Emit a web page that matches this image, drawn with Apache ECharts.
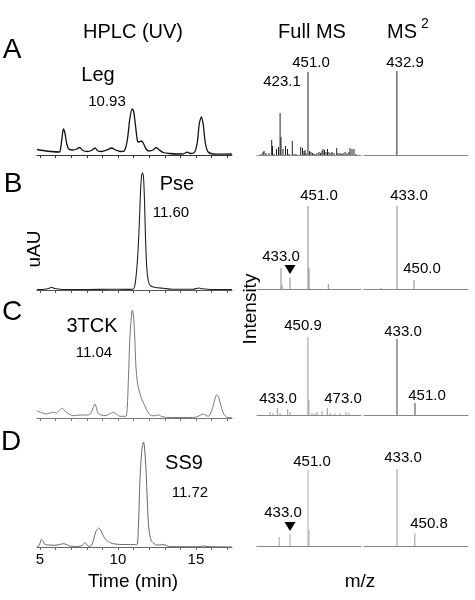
<!DOCTYPE html>
<html><head><meta charset="utf-8">
<script src="https://cdn.jsdelivr.net/npm/echarts@6/dist/echarts.min.js"></script>
<style>html,body{margin:0;padding:0;background:#fff}#c{width:475px;height:600px}</style>
</head><body><div id="c"></div>
<script>
// ---------- HPLC (UV) traces: retention time (min) and absorbance (a.u.) ----------
const timeA = [4.81,5.2,5.7,6.25,6.32,6.42,6.5,6.6,6.72,6.85,7.1,7.35,7.55,7.75,8.05,8.3,8.53,8.72,8.95,9.3,9.6,9.85,10.15,10.4,10.6,10.75,10.9,11.0,11.12,11.25,11.35,11.5,11.62,11.8,12.0,12.25,12.45,12.65,12.9,13.3,13.8,14.2,14.45,14.65,14.9,15.08,15.22,15.35,15.47,15.6,15.78,16.1,16.6,17.3];
const uvA   = [5.5,4.5,3.5,3,6,18,26,22,11,6,5,6,7.5,4.5,3.5,4.5,7,4,3.5,5,7,5,3.5,4,15,35,46,44,30,14,13,14,12,6,4,5,7.5,5,2.5,1.5,1,1.2,2.8,1.5,2.5,12,32,38,30,12,3,1,0.8,1];
const timeB = [4.81,5.3,5.6,5.75,5.95,6.5,8,9.5,10.5,10.95,11.1,11.25,11.36,11.45,11.52,11.58,11.64,11.7,11.77,11.85,11.95,12.1,12.4,12.9,13.5,14.8,15.2,15.4,16,17.3];
const uvB   = [0.5,0.8,1.8,2.7,1.5,0.5,0.5,0.8,0.6,0.8,6,30,63,100,115,117,112,90,50,22,9,4,2.5,1.7,0.8,0.8,2,1.2,0.5,0.5];
const timeC = [4.81,5.1,5.43,5.65,5.85,6.05,6.2,6.43,6.6,6.75,7.13,7.5,7.78,8.1,8.3,8.45,8.53,8.62,8.75,9.17,9.45,9.7,9.9,10.13,10.5,10.6,10.66,10.75,10.81,10.92,10.98,11.03,11.1,11.15,11.25,11.4,11.55,11.73,11.95,12.15,12.4,12.58,12.8,13.2,14.5,15.04,15.3,15.47,15.65,15.8,15.95,16.1,16.25,16.33,16.45,16.55,16.75,16.95,17.3];
const uvC   = [7,5.5,4,5,5.7,5,7,9.7,7,5,2.3,2.8,3,3,6,12,14,10,4.3,2.3,4,5.7,4,1.7,1.7,12,35,75,92,108,104,95,72,52,35,25,18,12,5,2.3,2.3,3.2,1.5,0.5,0.5,1,3,4,2.5,1.7,5,12,21,23,21,15,5,1,0.3];
const timeD = [4.81,4.95,5.1,5.2,5.3,5.6,5.95,6.25,6.5,6.7,6.9,7.4,7.7,7.88,8.0,8.1,8.3,8.45,8.55,8.63,8.78,8.87,8.95,9.17,9.4,9.7,10.2,10.8,11.2,11.3,11.41,11.5,11.56,11.64,11.7,11.8,11.87,11.95,12.05,12.16,12.48,12.7,12.9,13.1,13.33,15.2,15.47,15.7,17.3];
const uvD   = [0.5,1.5,7.7,6,2.7,2,1.7,2.5,3.3,2.5,1,0.5,1.5,4.3,2.5,0.7,1.5,8,14,16.7,19,17.5,15,8.3,5,3.3,2.5,2.5,2.3,16.7,66.7,92,100,105,100,76.7,50,23,11,5.7,2,2,2.7,1.5,0.3,0.3,1,0.5,0];
const timeTicks = [5,6,7,8,9,10,11,12,13,14,15,16,17];
const timeLabels = [5,10,15];

// ---------- Full MS spectra: m/z and relative intensity ----------
const fullMzA  = [404,406,407,409,412,414.7,415.5,417,419.5,421.5,423.1,424,426,428.5,430.5,432,435.3,437,439,443.7,445.5,447,448,449,451,452.5,454,455.5,457,458,460,462,463.5,465,466,467.5,469,470.5,472,474,475,477,479.7,481,483,484.5,486,488,490,492,493,495,497,499];
const fullIntA = [1,3,4,2,2,15,9,1,6,8,42,18,6,9,6,1,14,1,1,8,7,4,5,2,83,4,3,2,1,1,2,3,2,4,6,5,3,6,3,2,3,2,7,2,2,1,2,3,2,3,7,6,6,1];
const fullMzB  = [424,425,433,451,452,471.3];
const fullIntB = [21,4,11,83,21,5];
const fullMzC  = [413,416,420.3,423,430.7,433,450.9,451.9,455,458,460,465,470.3,473,478,483,489,492];
const fullIntC = [3,2,7,2,6,3,78,15,2,1.5,3,4,7,2,1.5,2,3,2];
const fullMzD  = [422.3,433,451,452];
const fullIntD = [9,12,76,16];

// ---------- MS2 spectra ----------
const ms2MzA  = [432.9];        const ms2IntA = [84];
const ms2MzB  = [416.7,433,450]; const ms2IntB = [1,83,9];
const ms2MzC  = [433,451];       const ms2IntC = [76,12];
const ms2MzD  = [433,450.8];     const ms2IntD = [77,12.7];

// ---------- annotations ----------
const hplcNames = ['Leg','Pse','3TCK','SS9'];
const hplcRt    = ['10.93','11.60','11.04','11.72'];
const panelLetters = ['A','B','C','D'];
const markedMz = 433.0;   // precursor marked by a triangle in B and D

// ================= build chart =================
const FONT = '"Liberation Sans", Arial, Helvetica, sans-serif';
const zip = (a, b) => a.map((v, i) => [v, b[i]]);

const hplcSets = [[timeA,uvA],[timeB,uvB],[timeC,uvC],[timeD,uvD]];
const fullSets = [[fullMzA,fullIntA],[fullMzB,fullIntB],[fullMzC,fullIntC],[fullMzD,fullIntD]];
const ms2Sets  = [[ms2MzA,ms2IntA],[ms2MzB,ms2IntB],[ms2MzC,ms2IntC],[ms2MzD,ms2IntD]];

// layout (pixels)
const hplcBase = [155, 290, 418, 547];
const hplcH    = [50, 120, 110, 110];
const msBase   = [155, 289, 415, 546];
const hplcColor = ['#111','#222','#777','#666'];
const hplcWidth = [1.3, 1.1, 1, 1];
const hplcAxisColor = ['#333','#555','#777','#666'];
const fullColor = ['#222','#888','#999','#aaa'];
const ms2Color  = ['#222','#888','#444','#999'];

const grid = [], xAxis = [], yAxis = [], series = [];
function addGrid(left, width, base, h) {
  grid.push({left: left, width: width, top: base - h, height: h, containLabel: false});
  return grid.length - 1;
}

for (let p = 0; p < 4; p++) {
  // HPLC
  let gi = addGrid(37, 195, hplcBase[p], hplcH[p]);
  xAxis.push({
    type: 'value', gridIndex: gi, min: 4.81, max: 17.31,
    axisLine: {show: true, lineStyle: {color: hplcAxisColor[p], width: 1}},
    axisTick: {show: true, customValues: timeTicks, length: 3, lineStyle: {color: hplcAxisColor[p]}},
    axisLabel: {show: p === 3, customValues: timeLabels, fontSize: 15, color: '#000', fontFamily: FONT, margin: 5},
    splitLine: {show: false}
  });
  yAxis.push({type: 'value', gridIndex: gi, min: 0, max: hplcH[p], show: false});
  series.push({
    type: 'line', xAxisIndex: gi, yAxisIndex: gi, data: zip(hplcSets[p][0], hplcSets[p][1]),
    showSymbol: false, smooth: 0.25, lineStyle: {color: hplcColor[p], width: hplcWidth[p]}, silent: true
  });

  // Full MS and MS2
  [[257, fullSets[p], fullColor[p], true], [364, ms2Sets[p], ms2Color[p], false]].forEach(([left, set, col, isFull]) => {
    const g = addGrid(left, 104, msBase[p], 90);
    xAxis.push({
      type: 'value', gridIndex: g, min: 400, max: 504,
      axisLine: {show: true, lineStyle: {color: '#888', width: 1}},
      axisTick: {show: false}, axisLabel: {show: false}, splitLine: {show: false}
    });
    yAxis.push({type: 'value', gridIndex: g, min: 0, max: 90, show: false});
    const s = {
      type: 'bar', xAxisIndex: g, yAxisIndex: g, data: zip(set[0], set[1]),
      barWidth: 1, itemStyle: {color: col}, silent: true
    };
    if (isFull && (p === 1 || p === 3)) {
      s.markPoint = {
        symbol: 'triangle', symbolRotate: 180, symbolSize: [11, 9],
        itemStyle: {color: '#000'}, label: {show: false},
        data: [{coord: [markedMz, 19.5]}]
      };
    }
    series.push(s);
  });
}

// texts
const T = (text, x, y, size, extra) => Object.assign({
  type: 'text', x: x, y: y, silent: true,
  style: {text: text, x: 0, y: 0, fill: '#000', font: size + 'px ' + FONT, textAlign: 'center', textVerticalAlign: 'middle'}
}, extra || {});

const graphic = [
  T('HPLC (UV)', 133, 32, 20), T('Full MS', 312, 32, 20), T('MS', 402, 32, 20), T('2', 425, 24, 14),
  T(panelLetters[0], 12, 50, 28), T(panelLetters[1], 13, 184, 28), T(panelLetters[2], 12, 312, 28), T(panelLetters[3], 11, 442, 28),
  T(hplcNames[0], 98, 75, 20), T(hplcRt[0], 107, 102, 15),
  T(hplcNames[1], 177, 184, 20), T(hplcRt[1], 171, 213, 15),
  T(hplcNames[2], 92, 326, 20), T(hplcRt[2], 94, 353, 15),
  T(hplcNames[3], 184, 463, 20), T(hplcRt[3], 190, 493, 15),
  T('uAU', 35, 249, 19, {rotation: Math.PI / 2}),
  T('Intensity', 251, 309, 19, {rotation: Math.PI / 2}),
  T('Time (min)', 133, 582, 19), T('m/z', 360, 582, 19),
  // peak labels
  T('451.0', 311, 63, 15), T('423.1', 282, 82, 15), T('432.9', 405, 63, 15),
  T('451.0', 319, 196, 15), T('433.0', 281, 257, 15), T('433.0', 409, 196, 15), T('450.0', 422, 269, 15),
  T('450.9', 303, 326, 15), T('433.0', 278, 399, 15), T('473.0', 343, 399, 15), T('433.0', 403, 332, 15), T('451.0', 427, 396, 15),
  T('451.0', 312, 462, 15), T('433.0', 283, 513, 15), T('433.0', 403, 458, 15), T('450.8', 429, 524, 15)
];

const chart = echarts.init(document.getElementById('c'), null, {renderer: 'canvas'});
chart.setOption({
  animation: false, backgroundColor: '#fff',
  textStyle: {fontFamily: FONT},
  grid: grid, xAxis: xAxis, yAxis: yAxis, series: series, graphic: graphic
});
</script></body></html>
